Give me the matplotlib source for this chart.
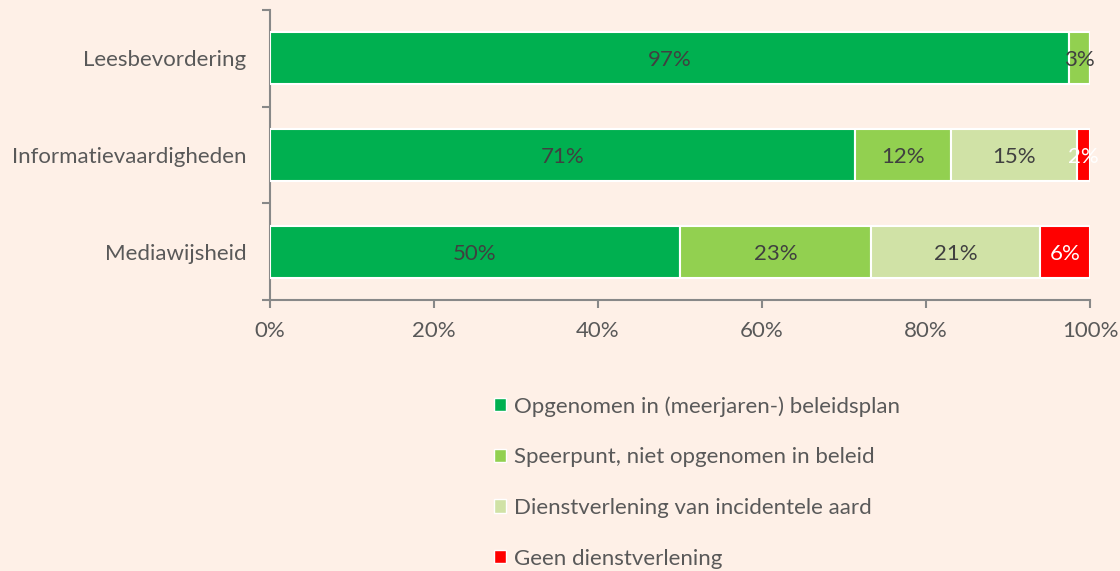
import matplotlib
matplotlib.use("Agg")
import matplotlib.pyplot as plt
from matplotlib.patches import Patch
import numpy as np

categories = ["Leesbevordering", "Informatievaardigheden", "Mediawijsheid"]
series_names = ["Opgenomen in (meerjaren-) beleidsplan",
                "Speerpunt, niet opgenomen in beleid",
                "Dienstverlening van incidentele aard",
                "Geen dienstverlening"]
opgenomen = [97.4, 71.4, 50.0]
speerpunt = [2.6, 11.7, 23.3]
incidenteel = [0.0, 15.3, 20.6]
geen = [0.0, 1.6, 6.1]
xtick_labels = ["0%", "20%", "40%", "60%", "80%", "100%"]

colors = ["#00B050", "#92D050", "#D0E2A6", "#FF0000"]
label_colors = ["#404040", "#404040", "#404040", "#FFFFFF"]
bg = "#FEF0E7"
text_color = "#595959"
axis_color = "#888888"
fs = 16

plt.rcParams['font.family'] = ['Lato', 'DejaVu Sans']

fig = plt.figure(figsize=(11.2, 5.71), dpi=100, facecolor=bg)
ax = fig.add_axes([270/1120, (571-300)/571, 820/1120, 290/571])
ax.set_facecolor(bg)

series = [opgenomen, speerpunt, incidenteel, geen]
y = np.arange(len(categories))
left = np.zeros(len(categories))
for vals, col, lc in zip(series, colors, label_colors):
    vals = np.array(vals, dtype=float)
    bars = ax.barh(y, vals, left=left, height=0.54, color=col,
                   edgecolor="white", linewidth=1.5, zorder=3)
    for b, v, l in zip(bars, vals, left):
        if v > 0:
            ax.text(l + v / 2, b.get_y() + b.get_height() / 2, f"{round(v)}%",
                    ha="center", va="center_baseline", color=lc, fontsize=fs,
                    zorder=4)
    left += vals

ax.set_xlim(0, 100)
ax.set_ylim(2.5, -0.5)
ax.set_xticks(np.arange(0, 101, 20))
ax.set_xticklabels(xtick_labels, fontsize=fs, color=text_color)
ax.set_yticks([-0.5, 0.5, 1.5, 2.5])
ax.set_yticklabels([])
ax.set_yticks(y, minor=True)
ax.set_yticklabels(categories, minor=True, fontsize=fs, color=text_color)
ax.tick_params(axis="y", which="minor", length=0, pad=17)
ax.tick_params(axis="y", which="major", length=6, color=axis_color, width=1.5)
ax.tick_params(axis="x", length=6, color=axis_color, width=1.5, pad=9)
for s in ["top", "right"]:
    ax.spines[s].set_visible(False)
for s in ["left", "bottom"]:
    ax.spines[s].set_color(axis_color)
    ax.spines[s].set_linewidth(1.5)

handles = [Patch(facecolor=c, edgecolor="white", linewidth=1) for c in colors]
leg = fig.legend(handles, series_names, loc="upper left",
                 bbox_to_anchor=(474/1120, 1 - 376/571), frameon=False,
                 fontsize=fs, labelcolor=text_color, handlelength=0.55,
                 handleheight=0.55, handletextpad=0.35, labelspacing=1.38)

fig.savefig("out.png", dpi=100, facecolor=bg)
